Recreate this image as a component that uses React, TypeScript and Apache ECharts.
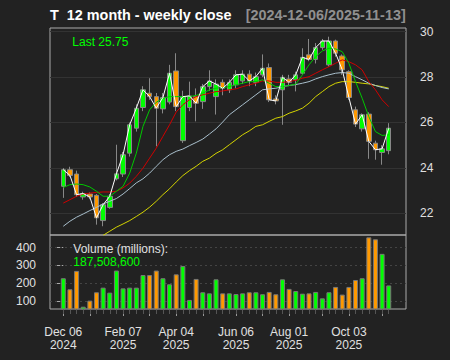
import React, { useEffect, useRef } from 'react';
import * as echarts from 'echarts';

const weeks = [
  '2024-12-06', '2024-12-13', '2024-12-20', '2024-12-27', '2025-01-03', '2025-01-10', '2025-01-17', '2025-01-24', '2025-01-31',
  '2025-02-07', '2025-02-14', '2025-02-21', '2025-02-28', '2025-03-07', '2025-03-14', '2025-03-21', '2025-03-28',
  '2025-04-04', '2025-04-11', '2025-04-17', '2025-04-25', '2025-05-02', '2025-05-09', '2025-05-16', '2025-05-23', '2025-05-30',
  '2025-06-06', '2025-06-13', '2025-06-20', '2025-06-27', '2025-07-03', '2025-07-11', '2025-07-18', '2025-07-25',
  '2025-08-01', '2025-08-08', '2025-08-15', '2025-08-22', '2025-08-29', '2025-09-05', '2025-09-12', '2025-09-19', '2025-09-26',
  '2025-10-03', '2025-10-10', '2025-10-17', '2025-10-24', '2025-10-31', '2025-11-07', '2025-11-13',
];

const opens = [
  23.19, 23.92, 23.73, 22.72, 22.85, 22.79, 21.68, 22.26, 23.52, 23.73,
  24.65, 25.75, 26.66, 27.29, 27.14, 26.60, 26.90, 28.27, 25.20, 26.66,
  27.14, 26.92, 27.58, 27.14, 27.77, 27.44, 27.66, 27.83, 28.13, 27.77,
  28.10, 28.42, 27.04, 27.44, 27.92, 27.88, 28.17, 28.98, 28.78, 29.30,
  28.54, 29.59, 28.93, 28.24, 26.56, 25.72, 26.37, 25.09, 24.68, 24.76,
];
const closes = [
  23.92, 23.67, 22.82, 22.87, 22.72, 21.80, 22.38, 22.75, 23.74, 24.58,
  25.90, 26.63, 27.44, 27.14, 26.63, 27.10, 28.17, 26.70, 27.14, 27.17,
  26.85, 27.58, 27.83, 27.69, 27.51, 27.77, 28.10, 28.13, 27.83, 28.02,
  28.39, 27.00, 26.95, 27.99, 27.77, 28.10, 28.87, 28.78, 29.30, 29.59,
  29.59, 29.05, 28.32, 27.10, 25.93, 26.34, 25.17, 24.80, 24.84, 25.75,
];
const lows = [
  22.68, 23.60, 22.72, 22.60, 22.62, 21.50, 21.43, 22.20, 23.45, 23.60,
  24.50, 25.60, 26.50, 27.00, 24.95, 26.40, 26.80, 26.50, 25.10, 26.50,
  26.05, 26.60, 27.40, 26.35, 27.20, 27.30, 27.50, 27.70, 27.60, 27.60,
  28.00, 26.90, 26.80, 25.90, 27.60, 27.37, 28.10, 28.70, 28.60, 29.20,
  28.46, 28.90, 28.10, 27.00, 25.80, 25.60, 24.40, 24.36, 24.14, 24.60,
];
const highs = [
  23.99, 24.05, 23.88, 22.95, 22.92, 22.85, 22.45, 22.85, 25.02, 24.70,
  26.00, 26.80, 27.60, 27.95, 27.30, 27.30, 28.54, 29.05, 27.40, 27.80,
  27.50, 27.70, 28.30, 27.90, 27.90, 27.90, 28.30, 28.30, 28.30, 28.20,
  29.00, 28.60, 27.20, 28.10, 28.10, 28.24, 29.27, 29.68, 29.50, 29.68,
  29.78, 29.65, 29.00, 28.30, 26.70, 26.40, 26.45, 25.20, 25.00, 25.97,
];
// weekly volume, millions of shares
const volumes = [
  228, 166, 269, 68, 102, 149, 175, 147, 271, 171,
  175, 175, 246, 246, 271, 228, 194, 250, 297, 106,
  224, 149, 143, 222, 143, 143, 139, 143, 149, 149,
  138, 151, 138, 222, 168, 156, 141, 143, 151, 115,
  149, 179, 136, 179, 218, 228, 458, 447, 365, 187.5086,
];
const maGreen = [
  23.14, 23.26, 23.29, 23.26, 23.16, 22.97, 22.75, 22.75, 22.97, 23.19,
  23.77, 24.65, 25.83, 26.56, 26.89, 27.07, 27.14, 27.14, 27.14, 27.14,
  27.19, 27.29, 27.44, 27.51, 27.54, 27.58, 27.66, 27.73, 27.80, 27.80,
  27.88, 27.73, 27.58, 27.58, 27.63, 27.69, 28.10, 28.54, 28.90, 29.15,
  29.27, 29.24, 29.12, 28.61, 27.80, 27.07, 26.26, 25.60, 25.43, 25.46,
];
const maRed = [
  22.45, 22.60, 22.75, 22.85, 22.89, 22.92, 22.94, 22.94, 22.97, 23.12,
  23.33, 23.63, 23.99, 24.43, 24.87, 25.39, 25.90, 26.46, 26.78, 27.00,
  27.14, 27.22, 27.29, 27.36, 27.39, 27.44, 27.48, 27.58, 27.66, 27.73,
  27.83, 27.83, 27.77, 27.77, 27.80, 27.86, 27.95, 28.02, 28.17, 28.32,
  28.46, 28.61, 28.76, 28.68, 28.54, 28.32, 27.80, 27.44, 27.00, 26.70,
];
const maGrey = [
  21.43, 21.65, 21.83, 21.97, 22.12, 22.26, 22.41, 22.53, 22.65, 22.85,
  23.09, 23.34, 23.52, 23.77, 24.07, 24.36, 24.58, 24.73, 24.83, 24.98,
  25.12, 25.27, 25.49, 25.72, 26.02, 26.34, 26.56, 26.78, 27.00, 27.22,
  27.44, 27.48, 27.51, 27.58, 27.63, 27.67, 27.73, 27.80, 27.92, 28.02,
  28.10, 28.17, 28.20, 28.17, 28.02, 27.88, 27.73, 27.63, 27.54, 27.48,
];
const maYellow = [
  null, null, null, null, null, null, 21.03, 21.21, 21.39, 21.53,
  21.68, 21.86, 22.05, 22.27, 22.53, 22.82, 23.08, 23.38, 23.66, 23.88,
  24.07, 24.29, 24.43, 24.64, 24.80, 25.02, 25.24, 25.46, 25.63, 25.83,
  25.90, 26.05, 26.19, 26.26, 26.41, 26.51, 26.63, 26.85, 27.14, 27.36,
  27.58, 27.73, 27.80, 27.80, 27.77, 27.73, 27.70, 27.63, 27.58, 27.51,
];
const priceTicks = [22, 24, 26, 28, 30];
const volumeTicks = [100, 200, 300, 400];
const labelWeeks = ['2024-12-06', '2025-02-07', '2025-04-04', '2025-06-06', '2025-08-01', '2025-10-03'];

const UP = '#00ff00';
const DOWN = '#ff9900';
const FONT = '"Liberation Sans", Arial, Helvetica, sans-serif';
const MONTHS = ['Jan', 'Feb', 'Mar', 'Apr', 'May', 'Jun', 'Jul', 'Aug', 'Sep', 'Oct', 'Nov', 'Dec'];

export default function App() {
  const ref = useRef<HTMLDivElement>(null);
  useEffect(() => {
    if (!ref.current) return;
    const chart = echarts.init(ref.current, null, { renderer: 'svg' });
    const n = closes.length;
    const allIdx = closes.map((_, i) => i);
    const monthIdx = weeks
      .map((w, i) => (i === 0 || w.slice(5, 7) !== weeks[i - 1].slice(5, 7) ? i : -1))
      .filter((i) => i >= 0);
    const labelIdx = labelWeeks.map((w) => weeks.indexOf(w));
    const fmtWeek = (v: number) => {
      const w = weeks[Math.round(v)];
      if (!w) return '';
      return `${MONTHS[parseInt(w.slice(5, 7), 10) - 1]} ${w.slice(8, 10)}\n${w.slice(0, 4)}`;
    };
    const candleData = closes.map((c, i) => [i, opens[i], c, lows[i], highs[i]]);
    const volData = volumes.map((v, i) => ({
      value: [i, v],
      itemStyle: { color: closes[i] >= opens[i] ? UP : DOWN },
    }));
    const lastVol = Math.round(volumes[n - 1] * 1e6).toLocaleString('en-US');
    const line = (data: (number | null)[], color: string, z: number) => ({
      type: 'line',
      xAxisIndex: 0,
      yAxisIndex: 0,
      data: data.map((v, i) => [i, v]),
      showSymbol: false,
      symbol: 'none',
      lineStyle: { color, width: 1 },
      z,
      silent: true,
    });

    const option: any = {
      animation: false,
      backgroundColor: '#222222',
      textStyle: { fontFamily: FONT },
      grid: [
        { left: 50, top: 28, width: 356, height: 207, show: true, borderColor: '#aaaaaa', borderWidth: 1, z: 0 },
        { left: 50, top: 235, width: 356, height: 74, show: true, borderColor: '#aaaaaa', borderWidth: 1, z: 0 },
      ],
      xAxis: [
        { type: 'value', gridIndex: 0, min: -2, max: 51.6, show: false },
        {
          type: 'value', gridIndex: 1, min: -2, max: 51.6, position: 'bottom',
          axisLine: { show: false }, splitLine: { show: false },
          axisTick: { show: true, customValues: monthIdx, length: 7, lineStyle: { color: '#999999' } },
          axisLabel: {
            customValues: labelIdx, formatter: fmtWeek, color: '#e0e0e0', fontSize: 12,
            lineHeight: 13.3, margin: 16, fontFamily: FONT,
          },
        },
        {
          type: 'value', gridIndex: 1, min: -2, max: 51.6, position: 'bottom',
          axisLine: { show: false }, splitLine: { show: false },
          axisTick: { show: true, customValues: allIdx, length: 5, lineStyle: { color: '#555555' } },
          axisLabel: { show: false },
        },
      ],
      yAxis: [
        {
          type: 'value', gridIndex: 0, position: 'right', min: 21.044, max: 30.163,
          axisLine: { show: false }, splitLine: { show: false },
          axisTick: { show: true, customValues: priceTicks, length: 7, lineStyle: { color: '#aaaaaa' } },
          axisLabel: { customValues: priceTicks, margin: 14, color: '#e0e0e0', fontSize: 12, fontFamily: FONT },
        },
        {
          type: 'value', gridIndex: 1, position: 'left', min: 55, max: 471,
          axisLine: { show: false }, splitLine: { show: false },
          axisTick: { show: true, customValues: volumeTicks, length: 7, lineStyle: { color: '#aaaaaa' } },
          axisLabel: { customValues: volumeTicks, margin: 14, color: '#e0e0e0', fontSize: 12, fontFamily: FONT },
        },
      ],
      series: [
        {
          type: 'line', xAxisIndex: 0, yAxisIndex: 0, data: [], z: 1, silent: true,
          markLine: {
            z: 1, silent: true, symbol: ['none', 'none'], label: { show: false },
            lineStyle: { color: '#333333', type: 'solid', width: 1 },
            data: priceTicks.map((v) => ({ yAxis: v })),
          },
        },
        {
          type: 'line', xAxisIndex: 1, yAxisIndex: 1, data: [], z: 1, silent: true,
          markLine: {
            z: 1, silent: true, symbol: ['none', 'none'], label: { show: false },
            lineStyle: { color: '#444444', type: [2, 3], width: 1 },
            data: volumeTicks.map((v) => ({ yAxis: v })),
          },
        },
        {
          type: 'candlestick', xAxisIndex: 0, yAxisIndex: 0, data: candleData, barWidth: 5, z: 3,
          itemStyle: { color: UP, color0: DOWN, borderColor: '#888888', borderColor0: '#888888', borderWidth: 1 },
        },
        line(maYellow, '#d4d400', 4),
        line(maGrey, '#a9bfcc', 4),
        line(maRed, '#d00000', 4),
        line(maGreen, '#00c800', 4),
        line(closes, '#ffffff', 5),
        {
          type: 'bar', xAxisIndex: 1, yAxisIndex: 1, data: volData, barWidth: 5, z: 3,
          itemStyle: { borderColor: '#777777', borderWidth: 1 },
        },
      ],
      graphic: [
        {
          type: 'text', x: 50, y: 14.5, silent: true, z: 10,
          style: { text: 'T  12 month - weekly close', fill: '#ffffff', font: `bold 14.4px ${FONT}`, align: 'left', verticalAlign: 'middle' },
        },
        {
          type: 'text', x: 245.7, y: 14.5, silent: true, z: 10,
          style: { text: `[${weeks[0]}/${weeks[n - 1]}]`, fill: '#909090', font: `bold 14.4px ${FONT}`, align: 'left', verticalAlign: 'middle' },
        },
        {
          type: 'text', x: 72.3, y: 42.2, silent: true, z: 10,
          style: { text: `Last ${closes[n - 1].toFixed(2)}`, fill: UP, font: `12px ${FONT}`, align: 'left', verticalAlign: 'middle' },
        },
        {
          type: 'text', x: 73.3, y: 249, silent: true, z: 10,
          style: { text: 'Volume (millions):', fill: '#e0e0e0', font: `12px ${FONT}`, align: 'left', verticalAlign: 'middle' },
        },
        {
          type: 'text', x: 73.3, y: 262.3, silent: true, z: 10,
          style: { text: lastVol, fill: UP, font: `12px ${FONT}`, align: 'left', verticalAlign: 'middle' },
        },
      ],
    };
    chart.setOption(option);
    return () => chart.dispose();
  }, []);
  return (
    <div
      ref={ref}
      style={{ position: 'fixed', left: 0, top: 0, width: 450, height: 360, background: '#222222' }}
    />
  );
}
